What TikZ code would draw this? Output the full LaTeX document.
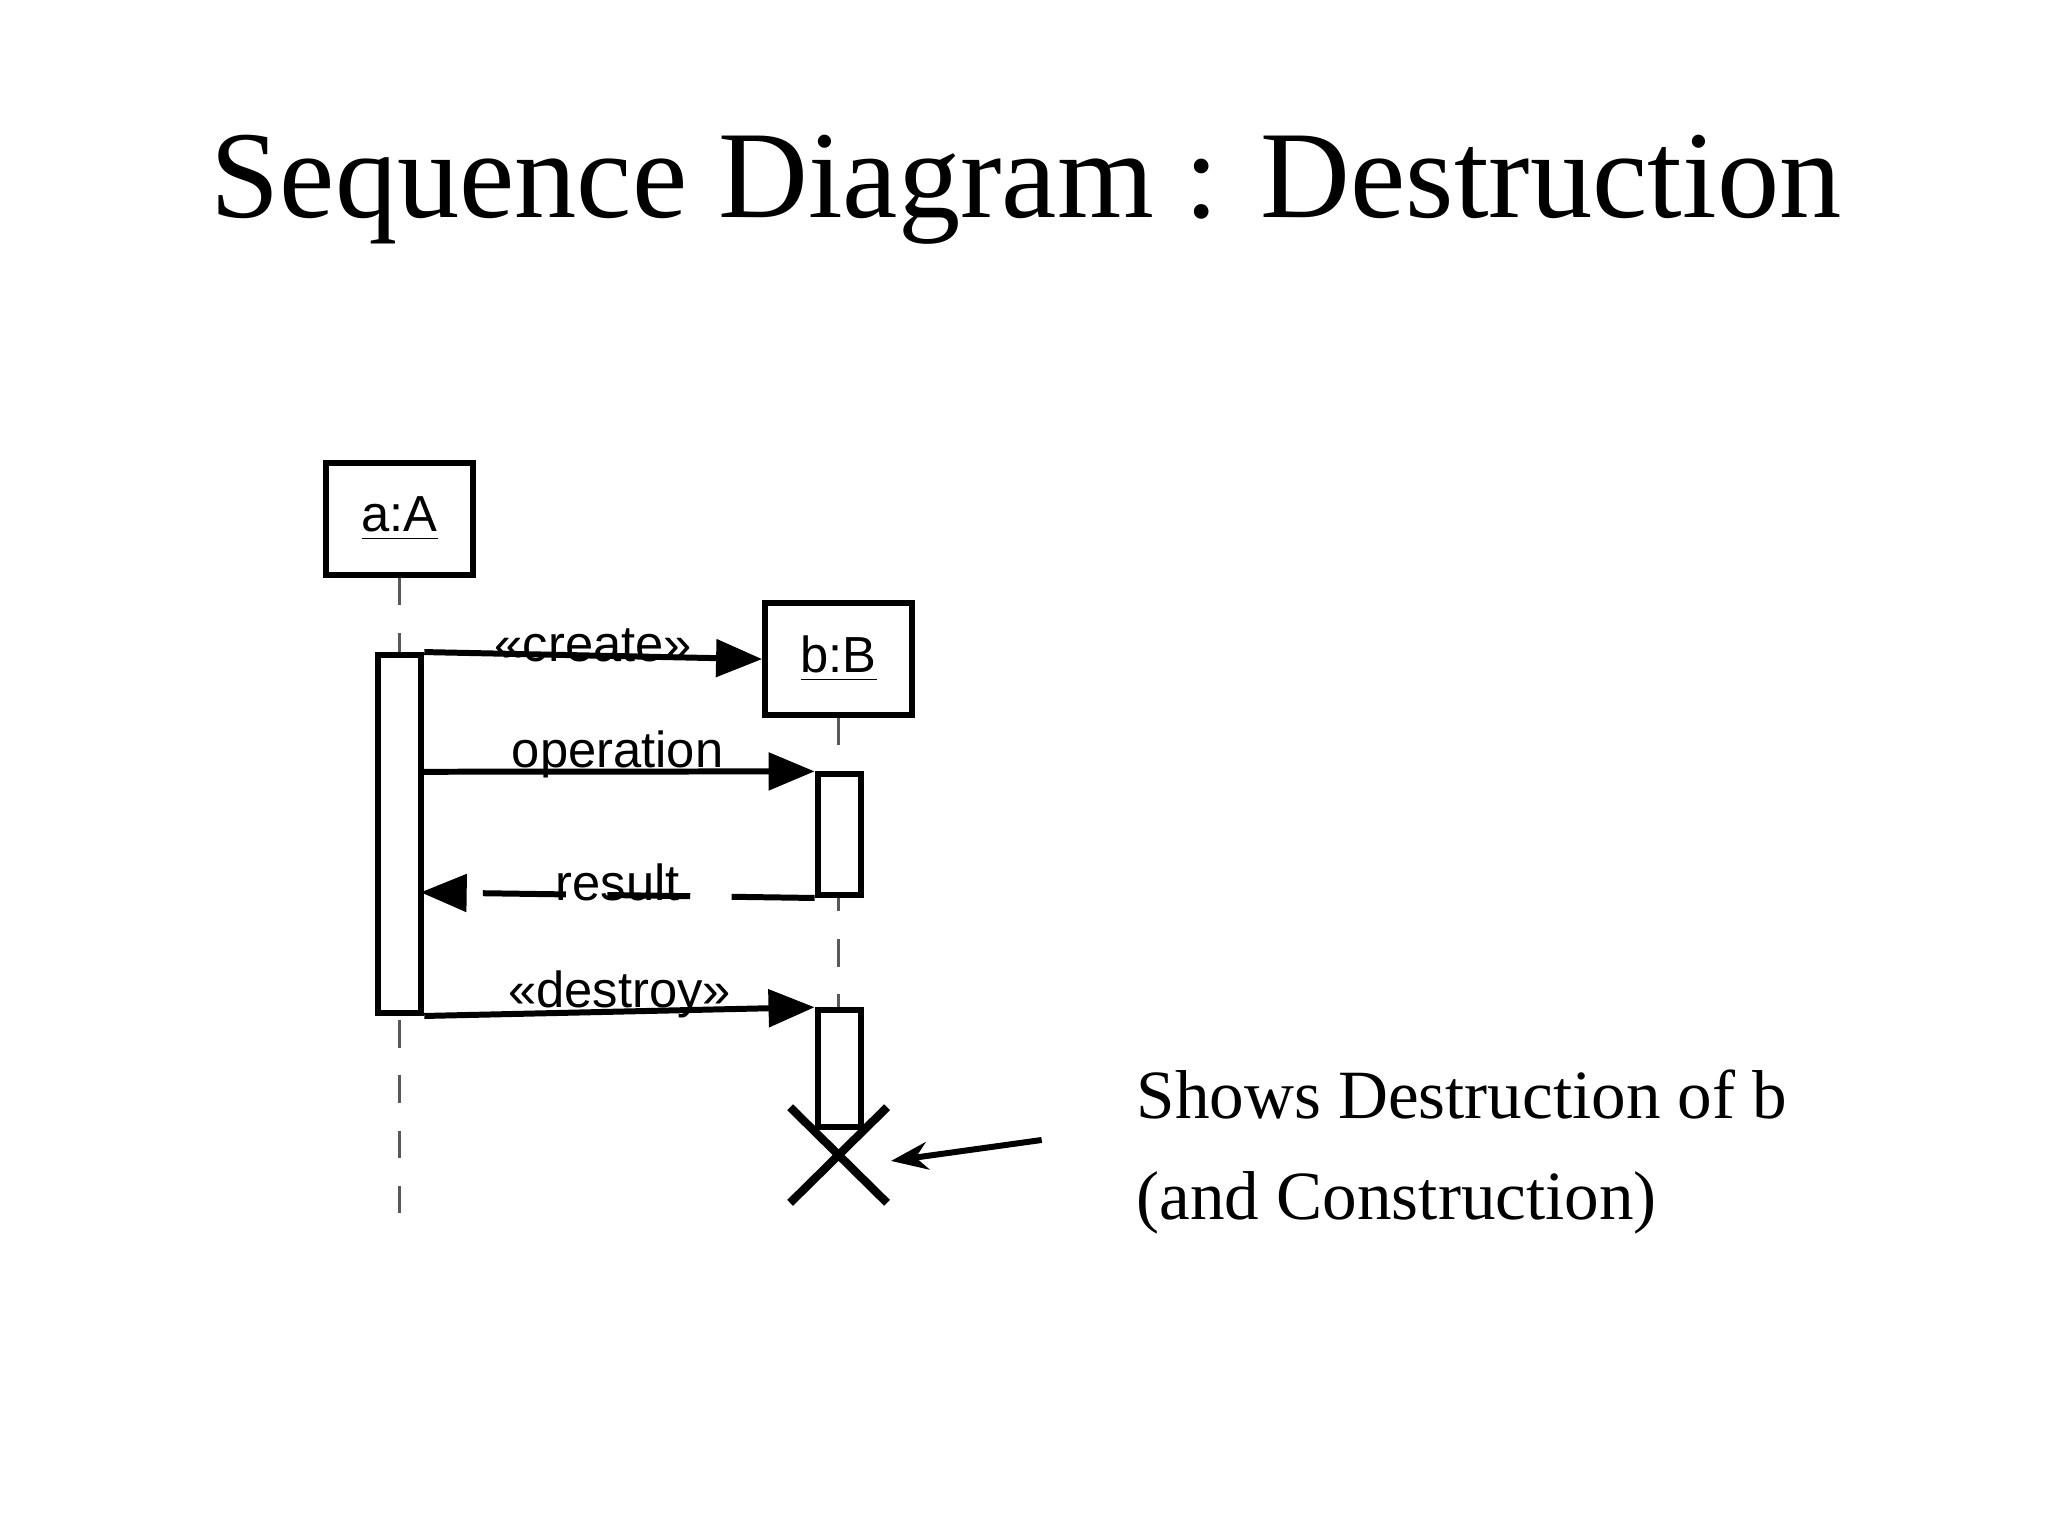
\documentclass[tikz,border=0pt]{standalone}
\usepackage{fontspec}
\setmainfont{Liberation Serif}
\setsansfont{Liberation Sans}
\usetikzlibrary{arrows.meta}
\begin{document}
\begin{tikzpicture}[x=0.01cm,y=-0.01cm,
  objbox/.style={draw,line width=1.3pt,minimum width=1.12cm,minimum height=0.85cm,inner sep=0pt,font=\sffamily\fontsize{11}{13}\selectfont},
  act/.style={draw,line width=1.3pt,fill=white,minimum width=0.33cm,inner sep=0pt},
  life/.style={dash pattern=on 6pt off 6pt,line width=0.6pt,gray!70!black},
  msg/.style={line width=1.3pt,-{Triangle[length=10pt,width=8pt]}},
  lbl/.style={font=\sffamily\fontsize{11}{13}\selectfont,inner sep=1pt}]
\useasboundingbox (0,0) rectangle (1563,1172);
\node[font=\fontsize{27}{32}\selectfont] (title) at (783,145) {Sequence Diagram : Destruction};
% objects
\node[objbox] (A) at (305,396) {\underline{a:A}};
\node[objbox] (B) at (640,503) {\underline{b:B}};
\coordinate (aend) at (305,935);
\coordinate (bend) at (640,860);
\draw[life] (A.south) -- (aend);
\draw[life] (B.south) -- (bend);
% activations
\node[act,minimum height=2.73cm] (actA) at (305,636.5) {};
\node[act,minimum height=0.92cm] (actB1) at (640.5,637) {};
\node[act,minimum height=0.89cm] (actB2) at (640.5,815.5) {};
% messages
\draw[msg] (actA.north east) -- node[lbl,above,yshift=-3pt]{«create»} (B.west);
\coordinate (op) at (321,589);
\draw[msg] (op) -- node[lbl,above,yshift=-3pt]{operation} (actB1.north west);
\coordinate (res) at (321,681);
\draw[msg,dashed,dash pattern=on 18pt off 9pt] (actB1.south west) -- node[lbl,above,yshift=-3pt]{result} (res);
\draw[msg] (actA.south east) -- node[lbl,above,yshift=-3pt]{«destroy»} (actB2.north west);
% destruction X
\coordinate (x1) at (603,845); \coordinate (x2) at (677,918);
\coordinate (x3) at (677,845); \coordinate (x4) at (603,918);
\draw[line width=1.8pt] (x1) -- (x2);
\draw[line width=1.8pt] (x3) -- (x4);
% annotation
\node[anchor=west,align=left,font=\fontsize{15}{22}\selectfont] (note) at (855,879) {Shows Destruction of b\\(and Construction)};
\coordinate (ns) at (795,870);
\coordinate (ne) at (680,886);
\draw[line width=1.3pt,-{Stealth[length=8pt,width=6pt]}] (ns) -- (ne);
\end{tikzpicture}
\end{document}
